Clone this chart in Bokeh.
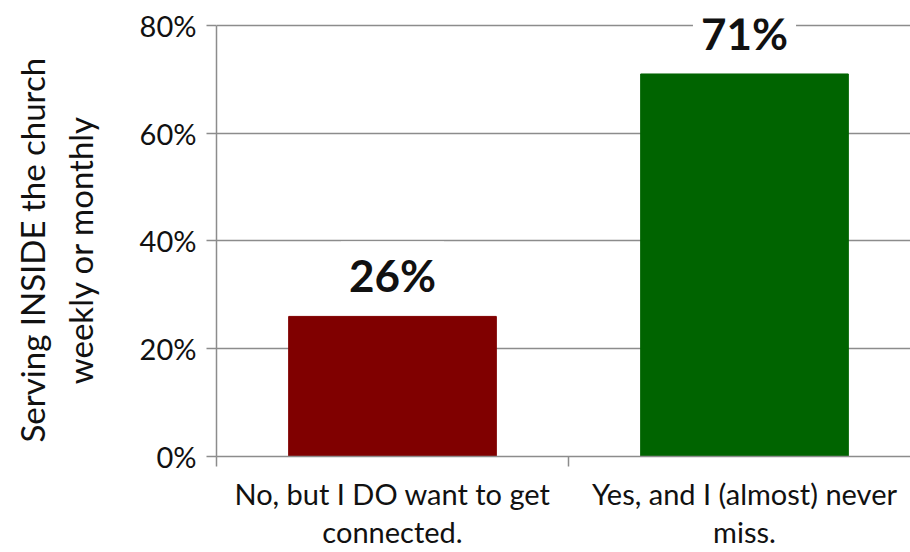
from bokeh.plotting import figure
from bokeh.models import (ColumnDataSource, Range1d, FixedTicker, LinearAxis,
                          PrintfTickFormatter, Label)
from bokeh.embed import file_html
from bokeh.resources import INLINE

categories = ["No, but I DO want to get\nconnected.", "Yes, and I (almost) never\nmiss."]
values = [26, 71]
colors = ["#800000", "#006400"]
value_labels = ["26%", "71%"]
y_ticks = [0, 20, 40, 60, 80]
y_title_lines = ["Serving INSIDE the church", "weekly or monthly"]

FONT = "Lato"
GRID = "#8c8c8c"
PAD = "\u00a0" * 3  # nudges the centred title slightly toward the bottom
y_title = "\n".join(line + PAD for line in y_title_lines)

xpos = [i + 0.5 for i in range(len(categories))]
src = ColumnDataSource(dict(x=xpos, top=values, color=colors))

# the reference shows the right edge of the plot area cut off by the image
x_end = len(categories) * (694 / 704)
y_top = y_ticks[-1] + 7 / 5.4  # a little headroom so the top label is not clipped

p = figure(width=910, height=552, output_backend="svg", toolbar_location=None,
           x_range=Range1d(0, x_end), y_range=Range1d(0, y_top),
           min_border_left=216, min_border_right=0, min_border_top=18,
           min_border_bottom=95, x_axis_location=None)
p.outline_line_color = None
p.background_fill_color = "white"
p.border_fill_color = "white"

p.vbar(x="x", top="top", width=0.59, color="color", source=src)

# y axis
ya = p.yaxis[0]
ya.ticker = FixedTicker(ticks=y_ticks)
ya.bounds = (y_ticks[0], y_ticks[-1])
ya.formatter = PrintfTickFormatter(format="%d%%")
ya.axis_line_color = GRID
ya.axis_line_width = 1.5
ya.major_tick_line_color = GRID
ya.major_tick_line_width = 1.5
ya.major_tick_out = 10
ya.major_tick_in = 0
ya.minor_tick_line_color = None
ya.major_label_text_font = FONT
ya.major_label_text_font_size = "29px"
ya.major_label_text_color = "#111111"
ya.major_label_standoff = 10
ya.axis_label = y_title
ya.axis_label_text_font = FONT
ya.axis_label_text_font_size = "33px"
ya.axis_label_text_font_style = "normal"
ya.axis_label_text_color = "#111111"
ya.axis_label_standoff = 37

p.ygrid.ticker = FixedTicker(ticks=y_ticks)
p.ygrid.grid_line_color = GRID
p.ygrid.grid_line_width = 1.5
p.xgrid.grid_line_color = None

# x axis with boundary ticks
xa = LinearAxis(ticker=FixedTicker(ticks=list(range(len(categories) + 1))))
xa.axis_line_color = GRID
xa.axis_line_width = 1.5
xa.major_tick_line_color = GRID
xa.major_tick_line_width = 1.5
xa.major_tick_out = 10
xa.major_tick_in = 0
xa.minor_tick_line_color = None
xa.major_label_text_font_size = "0px"
xa.major_label_standoff = 0
p.add_layout(xa, "below")

# category labels axis
xl = LinearAxis(ticker=FixedTicker(ticks=xpos))
xl.major_label_overrides = {xpos[i]: categories[i] for i in range(len(categories))}
xl.axis_line_color = None
xl.major_tick_line_color = None
xl.minor_tick_line_color = None
xl.major_label_text_font = FONT
xl.major_label_text_font_size = "29px"
xl.major_label_text_line_height = 1.1
xl.major_label_text_color = "#111111"
xl.major_label_standoff = 3
p.add_layout(xl, "below")

for xv, yv, lab in zip(xpos, values, value_labels):
    p.add_layout(Label(x=xv, y=yv, text=lab, text_align="center",
                       text_baseline="bottom", y_offset=7, text_font=FONT,
                       text_font_size="44px", text_font_style="bold",
                       text_color="#111111", background_fill_color="white",
                       padding=8))

open("out.html", "w").write(file_html(p, INLINE))
